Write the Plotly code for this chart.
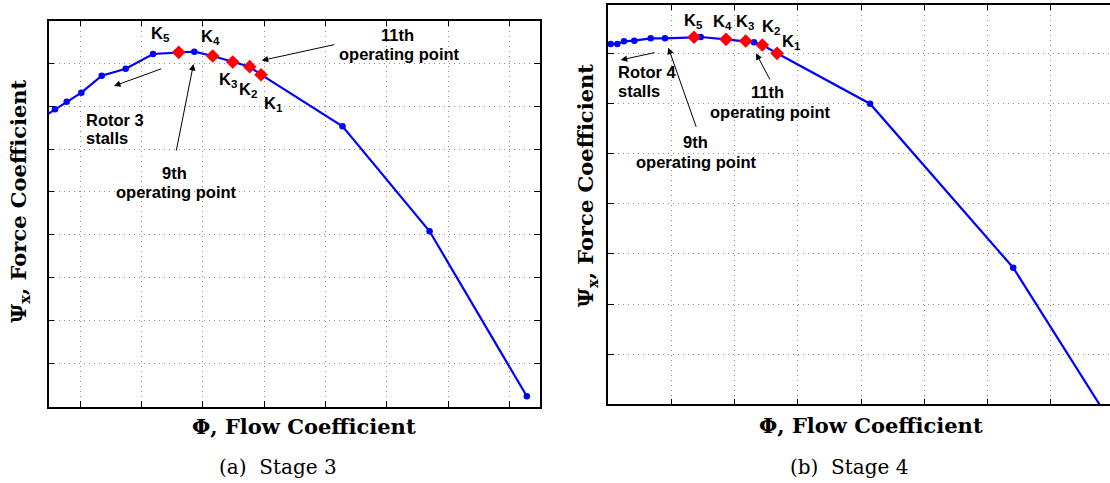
import plotly.graph_objects as go

W, H = 1110, 483

# ---------------- data (arbitrary units) ----------------
# Stage 3: blue operating points (Phi, Psi_x)
s3_phi = [0.341, 0.585, 0.776, 1.015, 1.348, 1.739, 2.185, 2.859, 5.278, 6.699, 8.286]
s3_psi = [6.700, 6.928, 7.105, 7.315, 7.711, 7.874, 8.217, 8.270, 6.531, 4.084, 0.238]
# Stage 3: K points K1..K5
k_labels = ["1", "2", "3", "4", "5"]
s3_k_phi = [3.948, 3.763, 3.486, 3.159, 2.604]
s3_k_psi = [7.734, 7.921, 8.030, 8.170, 8.256]

# Stage 4: blue operating points
s4_phi = [0.035, 0.140, 0.246, 0.409, 0.669, 0.895, 1.461, 2.305, 4.143, 6.411, 8.103]
s4_psi = [7.186, 7.186, 7.240, 7.252, 7.300, 7.300, 7.326, 7.220, 5.995, 2.724, -0.652]
# Stage 4: K points K1..K5
s4_k_phi = [2.670, 2.437, 2.174, 1.862, 1.355]
s4_k_psi = [7.000, 7.166, 7.246, 7.280, 7.320]

# grid positions
s3_xticks = [1, 2, 3, 4, 5, 6, 7, 8]
s3_yticks = [1, 2, 3, 4, 5, 6, 7, 8]
s4_xticks = [1, 2, 3, 4, 5, 6, 7]
s4_yticks = [1, 2, 3, 4, 5, 6, 7]

BLUE = "#0000ff"
RED = "#ff0000"


def merged(px, py, kx, ky):
    pts = sorted(list(zip(px, py)) + list(zip(kx, ky)))
    return [p[0] for p in pts], [p[1] for p in pts]


fig = go.Figure()

for (bx, by, kx, ky, xa, ya) in [
    (s3_phi, s3_psi, s3_k_phi, s3_k_psi, "x", "y"),
    (s4_phi, s4_psi, s4_k_phi, s4_k_psi, "x2", "y2"),
]:
    lx, ly = merged(bx, by, kx, ky)
    fig.add_trace(go.Scatter(x=lx, y=ly, mode="lines", xaxis=xa, yaxis=ya,
                             line=dict(color=BLUE, width=2.2), showlegend=False,
                             hoverinfo="skip"))
    fig.add_trace(go.Scatter(x=bx, y=by, mode="markers", xaxis=xa, yaxis=ya,
                             marker=dict(color=BLUE, size=6.5, symbol="circle"),
                             showlegend=False))
    fig.add_trace(go.Scatter(x=kx, y=ky, mode="markers", xaxis=xa, yaxis=ya,
                             marker=dict(color=RED, size=10.5, symbol="diamond"),
                             showlegend=False))

grid = dict(showgrid=True, gridcolor="#8c8c8c", gridwidth=1, griddash="1px,4px",
            zeroline=False, showticklabels=False, ticks="inside", ticklen=6,
            tickcolor="black", tickwidth=1, showline=True, linecolor="black",
            linewidth=1.5)

fig.update_layout(
    width=W, height=H,
    margin=dict(l=0, r=0, t=0, b=0),
    paper_bgcolor="white", plot_bgcolor="white",
    xaxis=dict(domain=[48.5 / W, 540 / W], range=[0.479, 8.501], tickvals=s3_xticks,
               anchor="y", mirror="ticks", **grid),
    yaxis=dict(domain=[1 - 406.7 / H, 1 - 20.7 / H], range=[-0.005, 8.993], tickvals=s3_yticks,
               anchor="x", mirror="ticks", **grid),
    xaxis2=dict(domain=[608 / W, 1.0], range=[-0.0075, 7.944], tickvals=s4_xticks,
                anchor="y2", mirror="ticks", **grid),
    yaxis2=dict(domain=[1 - 404.3 / H, 1 - 4.7 / H], range=[0, 7.97], tickvals=s4_yticks,
                anchor="x2", mirror=False, **grid),
)


def P(px, py):
    return px / W, 1 - py / H


ann = []
SANS = dict(family="Liberation Sans, Arial, sans-serif", size=16.5, color="black")


def text(s, px, py, xanchor="center"):
    x, y = P(px, py)
    ann.append(dict(x=x, y=y, xref="paper", yref="paper", text="<b>" + s + "</b>",
                    showarrow=False, xanchor=xanchor, yanchor="middle", font=SANS))


def arrow(tail, head):
    x, y = P(*head)
    ann.append(dict(x=x, y=y, xref="paper", yref="paper", text="", showarrow=True,
                    ax=tail[0] - head[0], ay=tail[1] - head[1], axref="pixel", ayref="pixel",
                    arrowhead=2, arrowsize=1.3, arrowwidth=1, arrowcolor="black", standoff=0))


# K labels stage 3 (K1..K5)
for lab, (px, py) in zip(k_labels, [(273.3, 104.2), (248.3, 89.7), (228, 79.7), (210, 37.5), (160.8, 33.8)]):
    text("K<sub>" + lab + "</sub>", px, py)
# K labels stage 4
for lab, (px, py) in zip(k_labels, [(791.3, 41.7), (771, 26.7), (745, 22), (722.7, 22.2), (693.3, 21.3)]):
    text("K<sub>" + lab + "</sub>", px, py)

# stage 3 notes
text("Rotor 3", 84.3, 120, "left")
text("stalls", 84.3, 138.3, "left")
text("9th", 174, 172.5)
text("operating point", 176.5, 191.7)
text("11th", 397, 35)
text("operating point", 399, 54.3)
arrow((162.7, 68.3), (114, 86))
arrow((176, 152), (193.5, 64))
arrow((335.7, 44.3), (261.7, 60.5))

# stage 4 notes
text("Rotor 4", 616, 71.7, "left")
text("stalls", 616, 90.7, "left")
text("9th", 695, 141.7)
text("operating point", 696.7, 161.7)
text("11th", 767.7, 91.7)
text("operating point", 770, 112)
arrow((656, 52.3), (620.7, 60))
arrow((696.7, 128.3), (668.3, 47.7))
arrow((770.7, 81), (756, 53.3))

SERIF_B = dict(family="DejaVu Serif, serif", size=21, color="black", weight="bold")
SERIF = dict(family="DejaVu Serif, serif", size=20, color="black")

for (px, py) in [(19, 201), (586.3, 185)]:
    x, y = P(px, py)
    ann.append(dict(x=x, y=y, xref="paper", yref="paper", showarrow=False, textangle=-90,
                    text="Ψ<sub>x</sub>, Force Coefficient", font=SERIF_B,
                    xanchor="center", yanchor="middle"))
for (px, py) in [(304, 426.7), (871, 425.7)]:
    x, y = P(px, py)
    ann.append(dict(x=x, y=y, xref="paper", yref="paper", showarrow=False,
                    text="Φ, Flow Coefficient", font=SERIF_B,
                    xanchor="center", yanchor="middle"))
for (s, px, py) in [("(a)  Stage 3", 277.5, 466.7), ("(b)  Stage 4", 849, 466.7)]:
    x, y = P(px, py)
    ann.append(dict(x=x, y=y, xref="paper", yref="paper", showarrow=False,
                    text=s, font=SERIF, xanchor="center", yanchor="middle"))

fig.update_layout(annotations=ann)
fig.write_html("out.html")
